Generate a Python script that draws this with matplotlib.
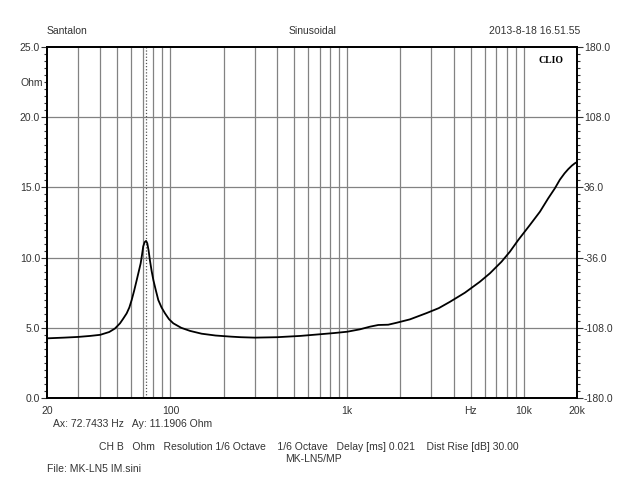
import matplotlib
matplotlib.use("Agg")
import matplotlib.pyplot as plt
from matplotlib.ticker import FixedLocator, MultipleLocator, NullFormatter, NullLocator

plt.rcParams['font.family'] = ['Liberation Sans', 'DejaVu Sans']

# Impedance curve (Hz, Ohm)
freq = [20, 25, 30, 35, 40, 45, 48.5, 51.8, 54, 56.5, 58.5, 60.3, 62.3, 64.4,
        66.1, 67.8, 69, 70.1, 71.4, 72.74, 73.9, 75.2, 76.5, 78.2, 80.0, 82.5,
        85.3, 89, 93.1, 98, 103.7, 115, 129, 150, 180, 220, 250, 300, 400, 541,
        702, 850, 1000, 1180, 1346, 1500, 1708, 1906, 2266, 2818, 3300, 3818,
        4641, 5641, 6428, 7482, 8340, 9296, 10820, 12340, 13740, 15000, 16000,
        17000, 17840, 18700, 19460, 20000]
ohm = [4.25, 4.3, 4.35, 4.42, 4.5, 4.7, 4.95, 5.32, 5.65, 6.03, 6.45, 6.98,
       7.65, 8.4, 9.0, 9.59, 10.2, 10.8, 11.1, 11.19, 11.02, 10.5, 9.8, 9.05,
       8.4, 7.7, 6.98, 6.45, 6.03, 5.62, 5.32, 5.0, 4.78, 4.58, 4.45, 4.37,
       4.33, 4.3, 4.33, 4.42, 4.54, 4.63, 4.72, 4.89, 5.08, 5.2, 5.22, 5.36,
       5.6, 6.05, 6.4, 6.85, 7.5, 8.28, 8.88, 9.71, 10.42, 11.25, 12.32, 13.27,
       14.22, 14.94, 15.55, 16.0, 16.3, 16.55, 16.72, 16.8]

cursor_hz = 72.7433
cursor_ohm = 11.1906

y_ticks = [0, 5, 10, 15, 20, 25]
y_labels = ["0.0", "5.0", "10.0", "15.0", "20.0", "25.0"]
phase_ticks = [-180, -108, -36, 36, 108, 180]
phase_labels = ["-180.0", "-108.0", "-36.0", "36.0", "108.0", "180.0"]
x_tick_pos = [20, 100, 1000, 5000, 10000, 20000]
x_tick_labels = ["20", "100", "1k", "Hz", "10k", "20k"]

fig = plt.figure(figsize=(6.26, 5.0), dpi=100)
ax = fig.add_axes([47/626, 1-398/500, 530/626, 351/500])

ax.set_xscale('log')
ax.set_xlim(20, 20000)
ax.set_ylim(0, 25)

# grid
minor_x = []
for dec in [10, 100, 1000, 10000]:
    for m in range(1, 10):
        v = dec * m
        if 20 < v < 20000:
            minor_x.append(v)
for v in minor_x:
    ax.axvline(v, color='#828282', lw=0.9, zorder=1)
for v in [5, 10, 15, 20]:
    ax.axhline(v, color='#828282', lw=0.9, zorder=1)

ax.axvline(cursor_hz, color='#555555', lw=0.9, ls=(0, (1, 1.5)), zorder=2)

ax.plot(freq, ohm, color='black', lw=1.3, zorder=3, solid_joinstyle='round')

ax.xaxis.set_major_locator(FixedLocator(x_tick_pos))
ax.xaxis.set_minor_locator(NullLocator())
ax.set_xticklabels(x_tick_labels)
ax.xaxis.set_minor_formatter(NullFormatter())
ax.tick_params(axis='x', length=0, labelsize=7.5, pad=6, colors='#333333')

ax.set_yticks(y_ticks)
ax.set_yticklabels(y_labels)
ax.yaxis.set_minor_locator(MultipleLocator(0.5))
ax.tick_params(axis='y', which='major', length=4, direction='out', labelsize=7.5,
               pad=1, colors='#333333', width=0.8)
ax.tick_params(axis='y', which='minor', length=2.5, direction='out', width=0.8,
               color='#333333')

for s in ax.spines.values():
    s.set_linewidth(1.3)
    s.set_color('black')

ax2 = ax.twinx()
ax2.set_ylim(-180, 180)
ax2.set_yticks(phase_ticks)
ax2.set_yticklabels(phase_labels)
ax2.yaxis.set_minor_locator(MultipleLocator(7.2))
ax2.tick_params(axis='y', which='major', length=4, direction='out', labelsize=7.5,
                pad=1, colors='#333333', width=0.8)
ax2.tick_params(axis='y', which='minor', length=2.5, direction='out', width=0.8,
                color='#333333')
for s in ax2.spines.values():
    s.set_linewidth(1.3)

ax.text(0.975, 0.975, "CLIO", transform=ax.transAxes, ha='right', va='top',
        fontsize=7, fontweight='bold', family=['Liberation Serif', 'DejaVu Serif'],
        zorder=5)

tc = '#333333'
fs = 7.5
fig.text(47/626, 1-31/500, "Santalon", ha='left', va='center', fontsize=fs, color=tc)
fig.text(313/626, 1-31/500, "Sinusoidal", ha='center', va='center', fontsize=fs, color=tc)
fig.text(580/626, 1-31/500, "2013-8-18 16.51.55", ha='right', va='center', fontsize=fs, color=tc)
fig.text(43/626, 1-83/500, "Ohm", ha='right', va='center', fontsize=fs, color=tc)
fig.text(53/626, 1-424/500, f"Ax: {cursor_hz:.4f} Hz   Ay: {cursor_ohm:.4f} Ohm",
         ha='left', va='center', fontsize=fs, color=tc)
fig.text(309/626, 1-447/500,
         "CH B   Ohm   Resolution 1/6 Octave    1/6 Octave   Delay [ms] 0.021    Dist Rise [dB] 30.00",
         ha='center', va='center', fontsize=fs, color=tc)
fig.text(313/626, 1-459/500, "MK-LN5/MP", ha='center', va='center', fontsize=fs, color=tc)
fig.text(47/626, 1-469/500, "File: MK-LN5 IM.sini", ha='left', va='center', fontsize=fs, color=tc)

fig.savefig("out.png", dpi=100)
